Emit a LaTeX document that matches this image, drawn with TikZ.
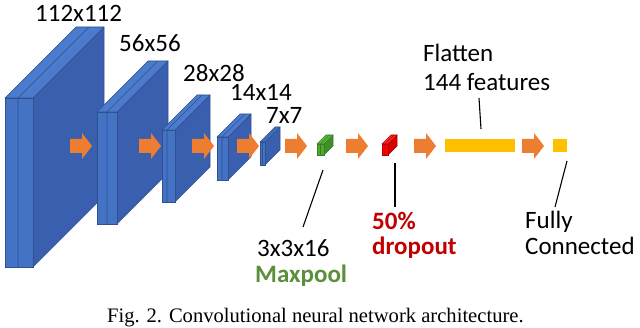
\documentclass[tikz,border=0pt]{standalone}
\usepackage{fontspec}
\newfontfamily\calfont{Carlito}
\newfontfamily\capfont{Liberation Serif}
\definecolor{bluef}{HTML}{4472C4}
\definecolor{bluet}{HTML}{4C7ACC}
\definecolor{blues}{HTML}{3A5FAE}
\definecolor{bluee}{HTML}{2F528F}
\definecolor{greenf}{HTML}{4EA72E}
\definecolor{greent}{HTML}{5CB83A}
\definecolor{greens}{HTML}{3F8F28}
\definecolor{greene}{HTML}{3A7D24}
\definecolor{redf}{HTML}{FF0000}
\definecolor{redt}{HTML}{FF2A2A}
\definecolor{reds}{HTML}{D80000}
\definecolor{rede}{HTML}{B00000}
\definecolor{arroworange}{HTML}{ED7D31}
\definecolor{flatyellow}{HTML}{FFC000}
\definecolor{labgreen}{HTML}{5A8F3C}
\definecolor{labred}{HTML}{C00000}
% x, top, bottom, width, split, depth, colour prefix
\newcommand\slab[7]{%
  \filldraw[draw=#7e, fill=#7s, line width=0.6pt, line join=round] (#1+#4,#2) -- (#1+#4+#6,#2-#6) -- (#1+#4+#6,#3-#6) -- (#1+#4,#3) -- cycle;
  \filldraw[draw=#7e, fill=#7t, line width=0.6pt, line join=round] (#1,#2) -- (#1+#4,#2) -- (#1+#4+#6,#2-#6) -- (#1+#6,#2-#6) -- cycle;
  \filldraw[draw=#7e, fill=#7f, line width=0.6pt] (#1,#2) rectangle (#1+#4,#3);
  \draw[#7e, line width=0.6pt] (#1+#5,#2) -- (#1+#5,#3) (#1+#5,#2) -- (#1+#5+#6,#2-#6);
}
\newcommand\blockarrow[2]{%
  \fill[arroworange] (#1,#2) ++(0,-7) -- ++(12,0) -- ++(0,-6) -- ++(10,13) -- ++(-10,13) -- ++(0,-6) -- ++(-12,0) -- cycle;
}
\tikzset{
  lab/.style={font=\calfont\fontsize{25}{30}\selectfont, inner sep=0pt, anchor=base west},
  numlab/.style={lab, text depth=0pt},
  blab/.style={lab, font=\calfont\bfseries\fontsize{25}{30}\selectfont},
  callout/.style={draw=black, line width=1.1pt},
}
\begin{document}
\begin{tikzpicture}[x=1pt,y=-1pt]
\useasboundingbox (0,0) rectangle (640,328);
% conv layers
\slab{5}{98}{267}{28}{13}{71}{blue}
\blockarrow{70}{146}
\slab{97}{112}{224}{20}{10}{51}{blue}
\blockarrow{139}{146}
\slab{162}{130}{202}{13}{5}{35}{blue}
\blockarrow{192}{146}
\slab{217}{137}{180}{11}{5}{23}{blue}
\blockarrow{237}{146}
\slab{260}{142}{165}{5}{2.5}{15}{blue}
\blockarrow{285}{146}
% maxpool
\slab{317}{144}{155}{7}{3.5}{9}{green}
\blockarrow{346}{146}
% dropout
\slab{382}{144}{155}{6}{3}{9}{red}
\blockarrow{414}{146}
% flatten
\fill[flatyellow] (445,139) rectangle (515,152);
\blockarrow{522}{146}
% fully connected
\fill[flatyellow] (553,139) rectangle (567,152);
% size labels
\node[numlab] (l112) at (35,22) {112x112};
\node[numlab] (l56) at (119,52) {56x56};
\node[numlab] (l28) at (183,82) {28x28};
\node[numlab] (l14) at (230,101) {14x14};
\node[numlab] (l7) at (266,124) {7x7};
% flatten label
\node[lab] (flat1) at (423,62) {Flatten};
\node[lab] (flat2) at (423,91) {144 features};
% maxpool label
\node[lab] (mp1) at (257,257) {3x3x16};
\node[blab, text=labgreen] (mp2) at (255,283) {Maxpool};
% dropout label
\node[blab, text=labred] (do1) at (372,230) {50\%};
\node[blab, text=labred] (do2) at (372,255) {dropout};
% fully connected label
\node[lab] (fc1) at (525,229) {Fully};
\node[lab] (fc2) at (525,255) {Connected};
% callout lines
\coordinate (mpa) at (323,170); \coordinate (mpb) at (303,227);
\coordinate (doa) at (395,163); \coordinate (dob) at (395,207);
\coordinate (fla) at (479,98); \coordinate (flb) at (481,129);
\coordinate (fca) at (567,161); \coordinate (fcb) at (555,207);
\draw[callout] (mpa) -- (mpb);
\draw[callout] (doa) -- (dob);
\draw[callout] (fla) -- (flb);
\draw[callout] (fca) -- (fcb);
% caption
\node[inner sep=0pt, anchor=base west, font=\capfont\fontsize{20.6}{24}\selectfont] (cap) at (107,323) {Fig. 2. Convolutional neural network architecture.};
\end{tikzpicture}
\end{document}
